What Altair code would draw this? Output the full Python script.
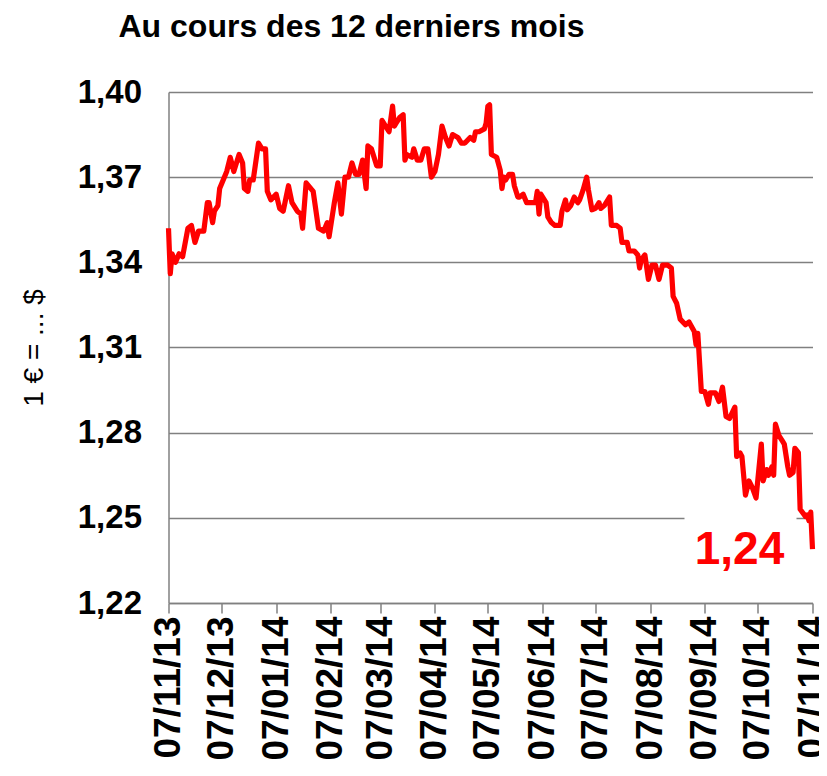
import altair as alt
import pandas as pd

title_text = "Au cours des 12 derniers mois"
y_title = "1 € = ... $"
last_label = "1,24"

tick_dates = ["2013-11-07", "2013-12-07", "2014-01-07", "2014-02-07", "2014-03-07",
              "2014-04-07", "2014-05-07", "2014-06-07", "2014-07-07", "2014-08-07",
              "2014-09-07", "2014-10-07", "2014-11-07"]
y_ticks = [1.22, 1.25, 1.28, 1.31, 1.34, 1.37, 1.40]

dates = [
    "2013-11-07", "2013-11-08", "2013-11-09", "2013-11-11", "2013-11-13", "2013-11-15", "2013-11-18",
    "2013-11-20", "2013-11-22", "2013-11-24", "2013-11-27", "2013-11-29", "2013-11-30",
    "2013-12-02", "2013-12-03", "2013-12-05", "2013-12-06", "2013-12-10", "2013-12-12", "2013-12-14",
    "2013-12-17", "2013-12-19", "2013-12-20", "2013-12-22", "2013-12-23", "2013-12-25", "2013-12-28",
    "2013-12-30",
    "2014-01-01", "2014-01-02", "2014-01-04", "2014-01-07", "2014-01-09", "2014-01-11", "2014-01-14",
    "2014-01-16", "2014-01-19", "2014-01-21", "2014-01-22", "2014-01-24", "2014-01-28", "2014-01-31",
    "2014-02-03", "2014-02-05", "2014-02-06", "2014-02-09", "2014-02-11", "2014-02-13", "2014-02-15",
    "2014-02-17", "2014-02-19", "2014-02-21", "2014-02-23", "2014-02-25", "2014-02-27", "2014-02-28",
    "2014-03-02", "2014-03-05", "2014-03-07", "2014-03-08", "2014-03-10", "2014-03-12", "2014-03-14",
    "2014-03-15", "2014-03-16", "2014-03-18", "2014-03-20", "2014-03-21", "2014-03-22", "2014-03-25",
    "2014-03-26", "2014-03-28", "2014-03-30",
    "2014-04-01", "2014-04-03", "2014-04-05", "2014-04-07", "2014-04-09", "2014-04-11", "2014-04-13",
    "2014-04-15", "2014-04-17", "2014-04-20", "2014-04-22", "2014-04-24", "2014-04-27", "2014-04-29",
    "2014-04-30",
    "2014-05-02", "2014-05-05", "2014-05-06", "2014-05-07", "2014-05-08", "2014-05-09", "2014-05-12",
    "2014-05-14", "2014-05-15", "2014-05-16", "2014-05-17", "2014-05-19", "2014-05-21", "2014-05-22",
    "2014-05-24", "2014-05-25", "2014-05-27", "2014-05-29",
    "2014-06-01", "2014-06-03", "2014-06-04", "2014-06-05", "2014-06-06", "2014-06-09", "2014-06-10",
    "2014-06-12", "2014-06-14", "2014-06-17", "2014-06-18", "2014-06-20", "2014-06-21", "2014-06-23",
    "2014-06-25", "2014-06-27", "2014-06-28", "2014-06-30",
    "2014-07-02", "2014-07-03", "2014-07-05", "2014-07-07", "2014-07-09", "2014-07-10", "2014-07-12",
    "2014-07-15", "2014-07-16", "2014-07-19", "2014-07-21", "2014-07-22", "2014-07-25", "2014-07-26",
    "2014-07-29", "2014-07-31",
    "2014-08-01", "2014-08-02", "2014-08-04", "2014-08-06", "2014-08-08", "2014-08-10", "2014-08-12",
    "2014-08-14", "2014-08-17", "2014-08-19", "2014-08-20", "2014-08-22", "2014-08-24", "2014-08-27",
    "2014-08-29",
    "2014-09-01", "2014-09-02", "2014-09-03", "2014-09-05", "2014-09-07", "2014-09-09", "2014-09-10",
    "2014-09-13", "2014-09-15", "2014-09-17", "2014-09-19", "2014-09-21", "2014-09-24", "2014-09-25",
    "2014-09-27", "2014-09-28", "2014-09-30",
    "2014-10-02", "2014-10-04", "2014-10-06", "2014-10-09", "2014-10-10", "2014-10-12", "2014-10-13",
    "2014-10-15", "2014-10-16", "2014-10-17", "2014-10-19", "2014-10-21", "2014-10-22", "2014-10-24",
    "2014-10-25", "2014-10-27", "2014-10-28", "2014-10-30", "2014-10-31",
    "2014-11-03", "2014-11-04", "2014-11-05", "2014-11-06", "2014-11-07",
]

rates = [
    1.352, 1.336, 1.343, 1.340, 1.343, 1.342, 1.352, 1.353, 1.347, 1.351, 1.351, 1.361, 1.361,
    1.354, 1.358, 1.360, 1.366, 1.372, 1.377, 1.372, 1.378, 1.375, 1.366, 1.365, 1.369, 1.369, 1.382,
    1.380,
    1.380, 1.365, 1.362, 1.364, 1.359, 1.358, 1.367, 1.361, 1.358, 1.357, 1.352, 1.368, 1.365, 1.352,
    1.351, 1.354, 1.349, 1.361, 1.368, 1.357, 1.370, 1.370, 1.375, 1.371, 1.371, 1.376, 1.366, 1.381,
    1.380, 1.374, 1.374, 1.390, 1.388, 1.386, 1.395, 1.388, 1.389, 1.391, 1.392, 1.376, 1.378, 1.377,
    1.380, 1.376, 1.376,
    1.380, 1.380, 1.370, 1.372, 1.378, 1.388, 1.384, 1.381, 1.385, 1.384, 1.382, 1.382, 1.384, 1.383,
    1.386,
    1.386, 1.387, 1.389, 1.395, 1.3955, 1.378, 1.377, 1.3725, 1.366, 1.370, 1.369, 1.371, 1.371, 1.367,
    1.363, 1.363, 1.364, 1.361,
    1.361, 1.361, 1.365, 1.357, 1.364, 1.361, 1.356, 1.354, 1.353, 1.353, 1.358, 1.362, 1.3585, 1.360,
    1.363, 1.361, 1.362, 1.3655,
    1.370, 1.3655, 1.3585, 1.359, 1.361, 1.359, 1.360, 1.363, 1.353, 1.353, 1.352, 1.347, 1.347, 1.344,
    1.344, 1.3426,
    1.338, 1.341, 1.3426, 1.334, 1.339, 1.339, 1.334, 1.339, 1.339, 1.338, 1.328, 1.3256, 1.320, 1.318,
    1.319,
    1.3156, 1.311, 1.315, 1.2945, 1.2945, 1.290, 1.294, 1.294, 1.291, 1.296, 1.2857, 1.285, 1.289,
    1.2716, 1.2728, 1.2716, 1.258,
    1.263, 1.2605, 1.257, 1.276, 1.263, 1.267, 1.265, 1.268, 1.265, 1.283, 1.279, 1.277, 1.276, 1.268,
    1.265, 1.266, 1.2745, 1.273, 1.253,
    1.2505, 1.251, 1.249, 1.252, 1.239,
]

FONT = "Liberation Sans"
GRAY = "#808080"


def dt(s):
    y, m, d = map(int, s.split("-"))
    return alt.DateTime(year=y, month=m, date=d, utc=True)


df = pd.DataFrame({"date": dates, "rate": rates})
last_df = df.iloc[[-1]].assign(label=last_label)

x_enc = alt.X(
    "date:T",
    scale=alt.Scale(type="utc", domain=[dt(tick_dates[0]), dt(tick_dates[-1])]),
    axis=alt.Axis(
        values=[dt(s) for s in tick_dates],
        labelExpr="utcFormat(datum.value, '%d/%m/%y')",
        labelAngle=-90,
        labelFont=FONT,
        labelFontSize=37,
        labelFontWeight="bold",
        labelColor="black",
        labelPadding=3,
        labelOverlap=False,
        labelBound=False,
        labelFlush=False,
        tickSize=10,
        tickColor=GRAY,
        tickWidth=1.5,
        domainColor=GRAY,
        domainWidth=1.5,
        grid=False,
        title=None,
    ),
)

y_enc = alt.Y(
    "rate:Q",
    scale=alt.Scale(domain=[1.22, 1.40], nice=False, zero=False),
    axis=alt.Axis(
        values=y_ticks,
        labelExpr="replace(format(datum.value, '.2f'), '.', ',')",
        labelFont=FONT,
        labelFontSize=33,
        labelFontWeight="bold",
        labelColor="black",
        labelPadding=27,
        ticks=False,
        domainColor=GRAY,
        domainWidth=1.5,
        grid=True,
        gridColor=GRAY,
        gridWidth=1.5,
        title=y_title,
        titleFont=FONT,
        titleFontSize=28,
        titleFontWeight="normal",
        titleColor="black",
        titlePadding=29,
    ),
)

box = alt.Chart(last_df).mark_rect(
    color="white", width=112, height=60, xOffset=-72, yOffset=-3
).encode(x=x_enc, y=y_enc)

line = alt.Chart(df).mark_line(
    color="#ff0000", strokeWidth=5.2, strokeJoin="round"
).encode(x=x_enc, y=y_enc)

text = alt.Chart(last_df).mark_text(
    font=FONT, fontSize=46, fontWeight="bold", color="#ff0000",
    align="center", baseline="middle", dx=-73, dy=1
).encode(x=x_enc, y=y_enc, text="label:N")

chart = alt.layer(box, line, text).properties(
    width=644,
    height=511,
    autosize=alt.AutoSizeParams(type="none"),
    padding={"left": 160.5, "top": 84, "right": 6, "bottom": 160},
    title=alt.Title(
        title_text, anchor="start", frame="group", dx=-50, offset=32,
        font=FONT, fontSize=32, fontWeight="bold", color="black",
    ),
).configure_view(stroke=None)

chart.save("out.html", embed_options={"renderer": "svg", "actions": False})
